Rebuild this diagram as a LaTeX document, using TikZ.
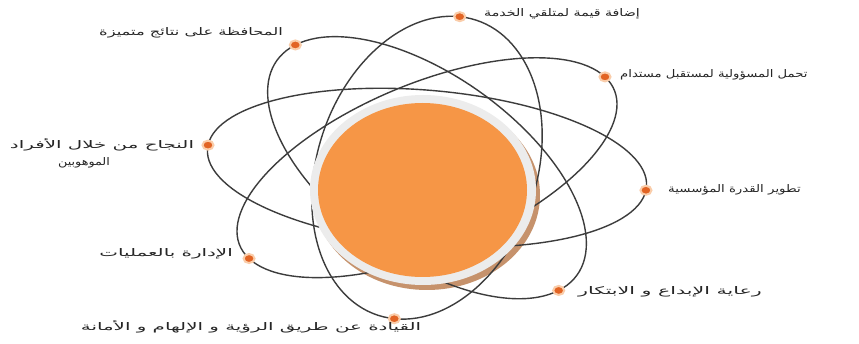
\documentclass[tikz,border=0pt]{standalone}
\usepackage{fontspec}
\usetikzlibrary{shapes.geometric}
\newfontfamily\arabicfont[Script=Arabic,FakeStretch=1.35]{DejaVu Sans}
\TeXXeTstate=1
\definecolor{orbitc}{RGB}{60,60,60}
\definecolor{ballc}{RGB}{246,150,70}
\definecolor{dotc}{RGB}{226,100,36}
\definecolor{glowc}{RGB}{250,205,170}
\definecolor{ringc}{RGB}{236,236,236}
\definecolor{shadowc}{RGB}{198,146,108}
\newcommand{\artext}[2][1]{\scalebox{#1}[1]{\beginR #2\endR}}
\begin{document}
\begin{tikzpicture}[x=1pt,y=1pt,
  orbit/.style={draw=orbitc, line width=1.4pt},
  atomdot/.style={ellipse, fill=dotc, draw=glowc, line width=2pt, minimum width=11pt, minimum height=9pt, inner sep=0pt},
  lab/.style={font=\arabicfont\fontsize{10.5}{17}\selectfont, text=black!85, inner sep=0pt}]
\useasboundingbox (0,0) rectangle (859,-344);
\fill[white] (0,0) rectangle (859,-344);
% shadow of the ball
\fill[shadowc] (427,-195) ellipse [x radius=113pt, y radius=95pt];
% orbits
\begin{scope}[shift={(427,-167.7)}, xscale=1.45]
  \foreach \a in {-8.5,36.5,81.5,126.5}
    \draw[orbit, rotate=\a] (0,0) ellipse [x radius=152.7pt, y radius=77pt];
\end{scope}
% ring and ball
\fill[ringc] (423,-190) ellipse [x radius=113pt, y radius=95pt];
\fill[ballc] (422.5,-190) ellipse [x radius=104.5pt, y radius=87pt];
% dots
\begin{scope}[shift={(427,-167.7)}, xscale=1.45]
  \node[atomdot] (dR)  at (-8.5:152.7pt) {};
  \node[atomdot] (dL)  at (171.5:152.7pt) {};
  \node[atomdot] (dRT) at (36.5:152.7pt) {};
  \node[atomdot] (dLB) at (216.5:152.7pt) {};
  \node[atomdot] (dT)  at (81.5:152.7pt) {};
  \node[atomdot] (dB)  at (261.5:152.7pt) {};
  \node[atomdot] (dTL) at (126.5:152.7pt) {};
  \node[atomdot] (dRB) at (306.5:152.7pt) {};
\end{scope}
% labels
\node[lab, anchor=west] (lT)  at (484,-14)  {\artext{إضافة قيمة لمتلقي الخدمة}};
\node[lab, anchor=east] (lTL) at (283,-33)  {\artext[1.15]{المحافظة على نتائج متميزة}};
\node[lab, anchor=west] (lRT) at (620,-75)  {\artext[0.93]{تحمل المسؤولية لمستقبل مستدام}};
\node[lab, align=center] (lL) at (102,-153) {\artext[1.4]{النجاح من خلال الأفراد}\\\artext[0.9]{الموهوبين}\hspace*{36pt}};
\node[lab, anchor=west] (lR)  at (668,-190) {\artext[0.94]{تطوير القدرة المؤسسية}};
\node[lab, anchor=east] (lLB) at (233,-254) {\artext[1.4]{الإدارة بالعمليات}};
\node[lab, anchor=west] (lRB) at (578,-292) {\artext[1.45]{رعاية الإبداع و الابتكار}};
\node[lab] (lB) at (251,-327) {\artext[1.4]{القيادة عن طريق الرؤية و الإلهام و الأمانة}};
\end{tikzpicture}
\end{document}
